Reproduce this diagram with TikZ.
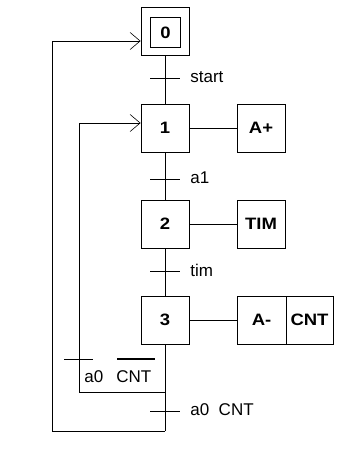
\documentclass[tikz,border=0pt]{standalone}
\usepackage{fontspec}
\setmainfont{Liberation Sans}
\newfontfamily\stepfont[FakeStretch=1.12]{Liberation Sans}
\usetikzlibrary{arrows.meta,calc}
\begin{document}
\begin{tikzpicture}[x=1pt,y=-1pt,
  line width=0.8pt,
  boldtext/.style={font=\fontsize{16.5}{19}\selectfont\stepfont\bfseries},
  stepbox/.style={draw, minimum size=48pt, inner sep=0pt, boldtext},
  actbox/.style={draw, minimum height=48pt, minimum width=48pt, inner sep=0pt, boldtext},
  cond/.style={font=\fontsize{17}{20}\selectfont, inner sep=0pt, anchor=west},
  loopback/.style={-{Straight Barb[length=10pt,width=17pt,line width=0.6pt]}}
]
\useasboundingbox (0,0) rectangle (356,453);

% initial step (double square)
\node[draw, minimum size=48pt, inner sep=0pt] (s0) at (165,31) {};
\node[stepbox, minimum size=30pt] (s0i) at (165.5,32.5) {0};

% steps
\node[stepbox] (s1) at (165,128) {1};
\node[stepbox] (s2) at (165,224) {2};
\node[stepbox] (s3) at (165,320) {3};

% actions
\node[actbox] (a1) at (261,128) {A+};
\node[actbox] (a2) at (261,224) {TIM};
\node[actbox, minimum width=49pt] (a3a) at (261.5,320) {A-};
\node[actbox, minimum width=47pt] (a3b) at (309.5,320) {CNT};

\draw (s1.east) -- (a1.west);
\draw (s2.east) -- (a2.west);
\draw (s3.east) -- (a3a.west);

% links between steps
\draw (s0.south) -- (s1.north);
\draw (s1.south) -- (s2.north);
\draw (s2.south) -- (s3.north);

% transitions on the main line
\coordinate (t0) at (165,78);
\coordinate (t1) at (165,179);
\coordinate (t2) at (165,271);
\coordinate (t4) at (165,411);
\foreach \t in {t0,t1,t2,t4}
  \draw ([xshift=-15pt]\t) -- ([xshift=15pt]\t);
\node[cond] (c0) at (190,77) {start};
\node[cond] (c1) at (190,178) {a1};
\node[cond] (c2) at (190,270) {tim};
\node[cond] (c4) at (190,410) {a0~~CNT};

% loops back to steps 1 and 0
\coordinate (j1) at (165,392);
\coordinate (j0) at (165,431);
\draw (s3.south) -- (j0);
\draw[loopback] (j1) -- (79,392) -- (79,123) -- ([yshift=5pt]s1.west);
\draw[loopback] (j0) -- (52,431) -- (52,41) -- ([yshift=-10pt]s0.west);

% transition on the inner loop
\coordinate (t3) at (79,359);
\draw ([xshift=-15pt]t3) -- ([xshift=14pt]t3);
\node[cond, anchor=base west] (c3a) at (84,382) {a0};
\node[cond, anchor=base west] (c3b) at (116,382) {CNT};
\draw[line width=2.2pt] ($(c3b.north west)+(1,-11)$) -- ($(c3b.north east)+(3,-11)$);
\end{tikzpicture}
\end{document}
